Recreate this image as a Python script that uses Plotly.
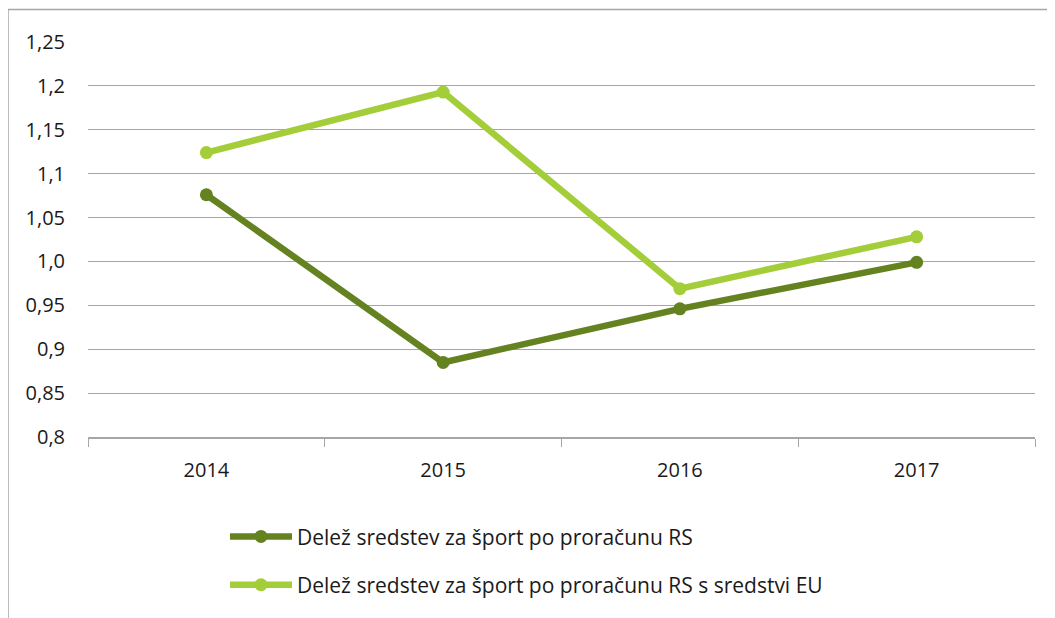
import plotly.graph_objects as go

years = ["2014", "2015", "2016", "2017"]
rs = [1.076, 0.885, 0.946, 0.999]
rs_eu = [1.124, 1.193, 0.969, 1.028]
ytick_vals = [0.8, 0.85, 0.9, 0.95, 1.0, 1.05, 1.1, 1.15, 1.2, 1.25]
ytick_text = ["0,8", "0,85", "0,9", "0,95", "1,0", "1,05", "1,1", "1,15", "1,2", "1,25"]
names = ["Delež sredstev za šport po proračunu RS",
         "Delež sredstev za šport po proračunu RS s sredstvi EU"]

DARK = "#64821f"
LIGHT = "#a3cd39"
FONT = "Open Sans"

fig = go.Figure()
fig.add_trace(go.Scatter(x=years, y=rs, name=names[0], mode="lines+markers",
                         line=dict(color=DARK, width=6.5), marker=dict(size=13, color=DARK),
                         legendgroup="a"))
fig.add_trace(go.Scatter(x=years, y=rs_eu, name=names[1], mode="lines+markers",
                         line=dict(color=LIGHT, width=6.5), marker=dict(size=13, color=LIGHT),
                         legendgroup="b"))

OFF = 8  # page body margin
W, H = 1055 - OFF, 618 - OFF
L, R, T, B = 88 - OFF, 20, 41.5 - OFF, 618 - 437.5
pw = W - L - R
ph = H - T - B

fig.update_layout(
    width=W, height=H,
    margin=dict(l=L, r=R, t=T, b=B),
    paper_bgcolor="white", plot_bgcolor="white",
    font=dict(family=FONT, size=20, color="#1a1a1a"),
    showlegend=True,
    legend=dict(x=(225 - OFF - L) / pw, y=(T + ph - (517 - OFF)) / ph, xanchor="left", yanchor="top",
                traceorder="grouped", tracegroupgap=18, font=dict(size=21),
                itemwidth=62, bgcolor="rgba(0,0,0,0)"),
    xaxis=dict(type="category", range=[-0.5, 3.5], showgrid=False,
               showline=True, linecolor="#a6a6a6", linewidth=1.5,
               ticks="outside", tickson="boundaries", ticklen=8, tickcolor="#a6a6a6",
               tickwidth=1.2, ticklabelstandoff=14, tickfont=dict(size=20)),
    yaxis=dict(range=[0.8, 1.25], tickvals=ytick_vals, ticktext=ytick_text,
               showgrid=True, gridcolor="#a6a6a6", gridwidth=1.2, zeroline=False,
               showline=False, ticks="", ticklabelstandoff=22, tickfont=dict(size=20)),
    shapes=[dict(type="rect", xref="paper", yref="paper",
                 x0=(8 - OFF - L) / pw, x1=(W + 20 - L) / pw,
                 y0=-(H + 20 - T - ph) / ph, y1=(T + ph - (9 - OFF)) / ph,
                 line=dict(color="#a6a6a6", width=1.5), fillcolor="rgba(0,0,0,0)",
                 layer="below")],
)

fig.write_html("out.html")
